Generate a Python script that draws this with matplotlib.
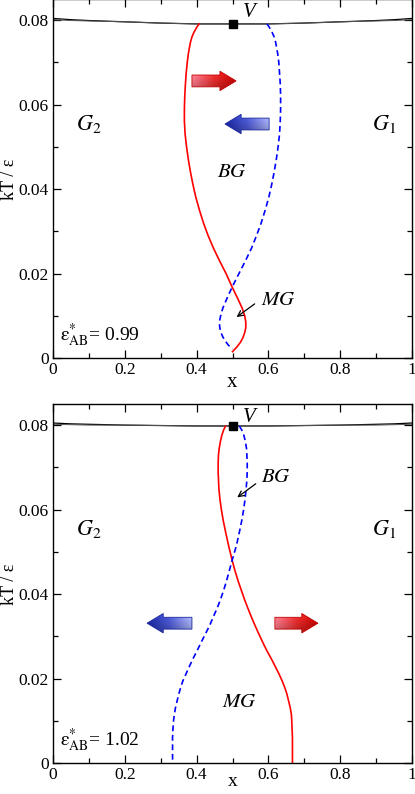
import numpy as np
import matplotlib
matplotlib.use("Agg")
import matplotlib.pyplot as plt
from matplotlib.patches import FancyArrow
from matplotlib.colors import LinearSegmentedColormap

plt.rcParams['font.family'] = ['Liberation Serif', 'DejaVu Serif']
plt.rcParams['mathtext.fontset'] = 'stix'

# ---- data ----
# vapour line (two nearly coincident branches)
x_vap = [0.0, 0.05, 0.1, 0.2, 0.3, 0.4, 0.5, 0.6, 0.7, 0.8, 0.9, 0.95, 1.0]
T_vap_top_a = [0.0804, 0.0801, 0.0799, 0.0796, 0.0793, 0.0791, 0.0791,
               0.0791, 0.0793, 0.0796, 0.0799, 0.0801, 0.0804]
T_vap_top_b = [0.0801, 0.0799, 0.0798, 0.0796, 0.0793, 0.0791, 0.0791,
               0.0791, 0.0793, 0.0796, 0.0798, 0.0799, 0.0801]
T_vap_bot_a = [0.0805, 0.0803, 0.0802, 0.0800, 0.0799, 0.0798, 0.0798,
               0.0798, 0.0799, 0.0800, 0.0802, 0.0803, 0.0805]
T_vap_bot_b = [0.0802, 0.0801, 0.0800, 0.0800, 0.0799, 0.0798, 0.0798,
               0.0798, 0.0799, 0.0800, 0.0800, 0.0801, 0.0802]

# top panel (eps*_AB = 0.99)
T_red_1 = [0.0791, 0.0785, 0.0778, 0.077, 0.076, 0.0748, 0.0735, 0.072,
           0.070, 0.0675, 0.065, 0.062, 0.059, 0.056, 0.053, 0.050, 0.047,
           0.044, 0.041, 0.038, 0.035, 0.032, 0.029, 0.026, 0.023, 0.020,
           0.0168, 0.014, 0.0118, 0.010, 0.0085, 0.0072, 0.006, 0.0048,
           0.0037, 0.0027, 0.0015]
x_red_1 = [0.407, 0.402, 0.397, 0.392, 0.387, 0.383, 0.380, 0.377,
           0.374, 0.371, 0.369, 0.367, 0.366, 0.366, 0.368, 0.372, 0.377,
           0.383, 0.390, 0.398, 0.408, 0.419, 0.432, 0.447, 0.464, 0.482,
           0.499, 0.515, 0.527, 0.534, 0.537, 0.537, 0.534, 0.529,
           0.522, 0.513, 0.500]
T_blue_1 = [0.0791, 0.0785, 0.0778, 0.077, 0.076, 0.0748, 0.0735, 0.072,
            0.070, 0.0675, 0.065, 0.062, 0.059, 0.056, 0.053, 0.050, 0.047,
            0.044, 0.041, 0.038, 0.035, 0.032, 0.029, 0.026, 0.023, 0.020,
            0.0168, 0.014, 0.0118, 0.010, 0.0088, 0.0075, 0.0062, 0.005,
            0.004, 0.003, 0.0022]
x_blue_1 = [0.596, 0.601, 0.606, 0.611, 0.616, 0.620, 0.623, 0.626,
            0.629, 0.631, 0.633, 0.634, 0.634, 0.633, 0.631, 0.627, 0.622,
            0.616, 0.609, 0.601, 0.591, 0.580, 0.567, 0.553, 0.536, 0.518,
            0.499, 0.484, 0.473, 0.467, 0.464, 0.464, 0.467, 0.473,
            0.480, 0.489, 0.500]

# bottom panel (eps*_AB = 1.02)
T_red_2 = [0.0798, 0.0788, 0.0775, 0.076, 0.0745, 0.073, 0.071, 0.0689,
           0.067, 0.065, 0.0625, 0.060, 0.0575, 0.055, 0.0515, 0.048,
           0.0455, 0.043, 0.0408, 0.0386, 0.0366, 0.0347, 0.0327, 0.0308,
           0.0288, 0.0267, 0.0247, 0.0227, 0.021, 0.0195, 0.018, 0.0165,
           0.0148, 0.013, 0.0115, 0.0102, 0.008, 0.006, 0.003, 0.0]
x_red_2 = [0.481, 0.475, 0.470, 0.466, 0.463, 0.461, 0.460, 0.460,
           0.461, 0.462, 0.465, 0.469, 0.474, 0.480, 0.489, 0.499,
           0.507, 0.516, 0.525, 0.534, 0.543, 0.552, 0.562, 0.572,
           0.583, 0.595, 0.608, 0.620, 0.630, 0.638, 0.645, 0.651,
           0.656, 0.661, 0.664, 0.665, 0.666, 0.667, 0.667, 0.667]
T_blue_2 = T_red_2
x_blue_2 = [0.519, 0.526, 0.532, 0.536, 0.539, 0.540, 0.541, 0.541,
            0.540, 0.538, 0.535, 0.531, 0.526, 0.520, 0.511, 0.499,
            0.491, 0.483, 0.475, 0.466, 0.457, 0.447, 0.437, 0.426,
            0.414, 0.402, 0.390, 0.379, 0.370, 0.362, 0.356, 0.351,
            0.346, 0.341, 0.338, 0.336, 0.334, 0.333, 0.333, 0.333]

eps_labels = ['0.99', '1.02']
V_points = [(0.5, 0.0791), (0.5, 0.0798)]


def gradient_arrow(ax, x0, x1, y, colors, width=0.0028, head_width=0.0046,
                   head_length=0.045):
    arr = FancyArrow(x0, y, x1 - x0, 0, width=width, head_width=head_width,
                     head_length=head_length, length_includes_head=True,
                     facecolor='none', edgecolor=colors[-1], lw=0.6, zorder=4)
    ax.add_patch(arr)
    cmap = LinearSegmentedColormap.from_list('g', colors)
    t = np.linspace(0, 1, 200)
    if x1 < x0:
        t = t[::-1]
    rgb = cmap(t)[:, :3]
    # lighter on top, darker at bottom
    v = np.linspace(1.15, 0.8, 60).reshape(-1, 1, 1)
    img = np.clip(rgb[None, :, :] * v, 0, 1)
    lo, hi = min(x0, x1), max(x0, x1)
    im = ax.imshow(img, extent=[lo, hi, y - head_width / 2, y + head_width / 2],
                   origin='upper', aspect='auto', zorder=3,
                   interpolation='bilinear')
    im.set_clip_path(arr)


def setup_axes(ax):
    ax.set_xlim(0, 1)
    ax.set_ylim(0, 0.085)
    ax.set_xticks([0, 0.2, 0.4, 0.6, 0.8, 1.0])
    ax.set_xticklabels(['0', '0.2', '0.4', '0.6', '0.8', '1'])
    ax.set_yticks([0, 0.02, 0.04, 0.06, 0.08])
    ax.set_yticklabels(['0', '0.02', '0.04', '0.06', '0.08'])
    ax.set_xticks(np.arange(0.1, 1.0, 0.2), minor=True)
    ax.set_yticks([0.01, 0.03, 0.05, 0.07], minor=True)
    ax.tick_params(which='both', direction='in', top=True, right=True,
                   labelsize=12.5, pad=3)
    ax.tick_params(which='major', length=6, width=0.9)
    ax.tick_params(which='minor', length=3.5, width=0.9)
    for s in ax.spines.values():
        s.set_linewidth(1.0)


fig = plt.figure(figsize=(4.15, 7.94), dpi=100)
ax1 = fig.add_axes([53 / 415, 436 / 794, 359 / 415, 359 / 794])
ax2 = fig.add_axes([53 / 415, 31 / 794, 359 / 415, 359 / 794])

# y labels placed by hand so they stay inside the figure
fig.text(9 / 415, (436 + 179) / 794, 'kT / ε', fontsize=13, rotation=90,
         ha='center', va='center')
fig.text(9 / 415, (31 + 179) / 794, 'kT / ε', fontsize=13, rotation=90,
         ha='center', va='center')

red_grad = ['#f07a8c', '#e02a2a', '#c00000']
blue_grad = ['#a8b0ee', '#4a56cc', '#18269e']

panels = [
    (ax1, T_vap_top_a, T_vap_top_b, x_red_1, T_red_1, x_blue_1, T_blue_1),
    (ax2, T_vap_bot_a, T_vap_bot_b, x_red_2, T_red_2, x_blue_2, T_blue_2),
]

for i, (ax, ta, tb, xr, tr, xb, tb_) in enumerate(panels):
    ax.plot(x_vap, ta, color='black', lw=0.9, zorder=2)
    ax.plot(x_vap, tb, color='#555555', lw=0.7, zorder=2)
    ax.plot(xr, tr, color='red', lw=1.2, zorder=2)
    ax.plot(xb, tb_, color='blue', lw=1.2, ls=(0, (3.5, 2.2)), zorder=2)
    vx, vy = V_points[i]
    ax.plot([vx], [vy], 's', color='black', ms=6, zorder=5)
    ax.text(0.53, 0.0807, 'V', fontsize=15, style='italic')
    ax.text(0.064, 0.054, '$G_2$', fontsize=16)
    ax.text(0.888, 0.054, '$G_1$', fontsize=16)
    ax.text(0.019, 0.0040, r'$\mathrm{\epsilon}^{*}_{\mathrm{AB}}$= ' + eps_labels[i],
            fontsize=14)
    setup_axes(ax)

# x labels: the lower one is pulled up so it is not clipped by the figure edge
ax1.set_xlabel('x', fontsize=15, labelpad=-4)
ax2.set_xlabel('x', fontsize=14, labelpad=-7)

# top panel annotations
gradient_arrow(ax1, 0.387, 0.51, 0.0656, red_grad)
gradient_arrow(ax1, 0.602, 0.479, 0.0554, blue_grad)
ax1.text(0.5, 0.0429, '$BG$', fontsize=15, ha='center')
ax1.text(0.58, 0.0125, '$MG$', fontsize=15)
ax1.annotate('', xy=(0.505, 0.0093), xytext=(0.568, 0.0132),
             arrowprops=dict(arrowstyle='->', color='black', lw=0.9))

# bottom panel annotations
gradient_arrow(ax2, 0.387, 0.262, 0.0331, blue_grad)
gradient_arrow(ax2, 0.618, 0.738, 0.0331, red_grad)
ax2.text(0.58, 0.0665, '$BG$', fontsize=15)
ax2.text(0.52, 0.0133, '$MG$', fontsize=15, ha='center')
ax2.annotate('', xy=(0.507, 0.0625), xytext=(0.571, 0.0665),
             arrowprops=dict(arrowstyle='->', color='black', lw=0.9))

for ax in (ax1, ax2):
    ax.set_xlim(0, 1)
    ax.set_ylim(0, 0.085)

fig.savefig('out.png', dpi=100)
